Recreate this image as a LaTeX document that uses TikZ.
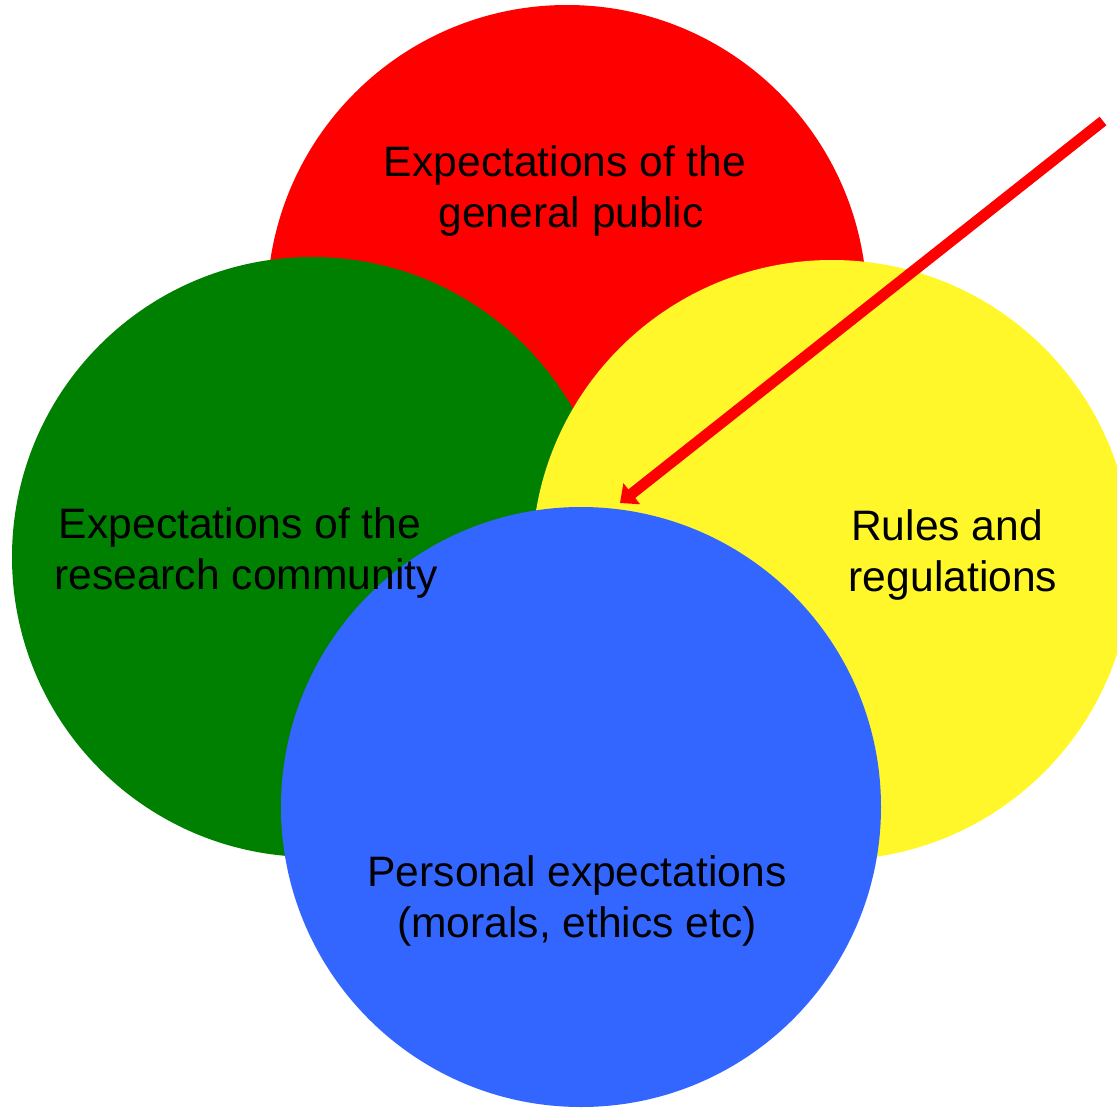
\documentclass[tikz,border=0pt]{standalone}
\usepackage{fontspec}
\setmainfont{Liberation Sans}
\usetikzlibrary{arrows.meta}
\definecolor{cred}{HTML}{FF0000}
\definecolor{cgreen}{HTML}{008000}
\definecolor{cyellow}{HTML}{FFF72A}
\definecolor{cblue}{HTML}{3366FF}
\tikzset{
  disc/.style={circle, draw=none, minimum size=600pt, inner sep=0pt},
  lbl/.style={align=center, font=\fontsize{42.6}{51}\selectfont, text=black, inner sep=0pt},
  pointer/.style={draw=cred, line width=11pt, -{Triangle[width=26pt,length=15pt]}}
}
\newcommand{\trail}{\kern0.278em}
\begin{document}
\begin{tikzpicture}[x=1pt,y=-1pt]
\useasboundingbox (0,0) rectangle (1117,1108);
\clip (0,0) rectangle (1117,1108);
\node[disc, fill=cred] (public) at (567,305) {};
\node[disc, fill=cgreen] (community) at (312,557) {};
\node[disc, fill=cyellow] (rules) at (832,560) {};
\node[disc, fill=cblue] (personal) at (581,807) {};
\node[lbl] (tpublic) at (571,191) {Expectations of the\trail\\general public};
\node[lbl] (tcommunity) at (246,553) {Expectations of the\trail\\research community};
\node[lbl] (trules) at (953,555) {Rules and\trail\\regulations};
\node[lbl] (tpersonal) at (577,901) {Personal expectations\\(morals, ethics etc)};
\coordinate (tail) at (1103,121);
\coordinate (tip) at (620,503);
\draw[pointer] (tail) -- (tip);
\end{tikzpicture}
\end{document}
